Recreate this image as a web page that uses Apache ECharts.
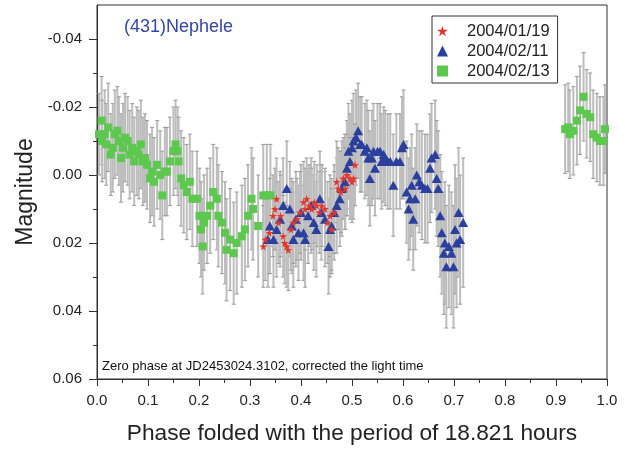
<!DOCTYPE html>
<html>
<head>
<meta charset="utf-8">
<script src="https://cdn.jsdelivr.net/npm/echarts@6/dist/echarts.min.js"></script>
<style>html,body{margin:0;padding:0;background:#fff}#c{width:625px;height:450px}</style>
</head>
<body>
<div id="c"></div>
<script>
// ---- Data (phase, magnitude, error) ----
const seriesNames = ['2004/01/19', '2004/02/11', '2004/02/13'];
const xTicks = [0, 0.1, 0.2, 0.3, 0.4, 0.5, 0.6, 0.7, 0.8, 0.9, 1.0];
const yTickLabels = [-0.04, -0.02, 0.00, 0.02, 0.04, 0.06];
const yMinorTicks = [-0.03, -0.01, 0.01, 0.03, 0.05];

const red0119 = [
  [0.326,0.021,0.012],[0.330,0.019,0.012],[0.338,0.017,0.012],[0.345,0.012,0.012],
  [0.349,0.010,0.012],[0.352,0.007,0.012],[0.356,0.014,0.012],[0.360,0.012,0.012],
  [0.365,0.018,0.012],[0.368,0.020,0.012],[0.372,0.021,0.012],[0.375,0.022,0.012],
  [0.380,0.016,0.012],[0.385,0.014,0.012],[0.392,0.013,0.012],[0.398,0.011,0.012],
  [0.405,0.008,0.012],[0.408,0.010,0.012],[0.411,0.007,0.012],[0.416,0.009,0.012],
  [0.421,0.010,0.012],[0.426,0.008,0.012],[0.431,0.009,0.012],[0.436,0.011,0.012],
  [0.441,0.009,0.012],[0.447,0.010,0.012],[0.452,0.014,0.012],[0.457,0.012,0.012],
  [0.460,0.016,0.012],[0.465,0.011,0.012],[0.470,0.002,0.012],[0.473,0.004,0.012],
  [0.478,0.005,0.012],[0.483,0.001,0.012],[0.487,0.004,0.012],[0.490,0.000,0.012],
  [0.496,0.001,0.012],[0.500,0.002,0.012],[0.503,0.001,0.012],[0.506,-0.003,0.012]
];

const blue0211 = [
  [0.335,0.019,0.014],[0.339,0.015,0.014],[0.346,0.019,0.014],[0.352,0.016,0.014],
  [0.359,0.013,0.014],[0.365,0.009,0.014],[0.372,0.004,0.014],[0.378,0.010,0.014],
  [0.382,0.015,0.014],[0.385,0.019,0.014],[0.390,0.013,0.014],[0.395,0.017,0.014],
  [0.400,0.011,0.014],[0.405,0.017,0.014],[0.408,0.019,0.014],[0.414,0.012,0.014],
  [0.420,0.009,0.014],[0.425,0.014,0.014],[0.430,0.016,0.014],[0.437,0.007,0.014],
  [0.440,0.011,0.014],[0.447,0.013,0.014],[0.454,0.021,0.014],[0.457,0.016,0.014],
  [0.460,0.015,0.014],[0.465,0.011,0.014],[0.470,0.009,0.014],[0.476,0.007,0.014],
  [0.480,0.004,0.014],[0.486,0.002,0.014],[0.490,-0.002,0.014],[0.493,-0.007,0.014],
  [0.496,-0.004,0.014],[0.500,-0.008,0.014],[0.503,-0.010,0.014],[0.508,-0.011,0.014],
  [0.512,-0.013,0.014],[0.516,-0.009,0.014],[0.519,-0.009,0.014],[0.525,-0.007,0.014],
  [0.529,-0.008,0.014],[0.532,-0.005,0.014],[0.535,0.001,0.014],[0.539,-0.005,0.014],
  [0.542,-0.007,0.014],[0.545,-0.002,0.014],[0.550,-0.007,0.014],[0.555,-0.007,0.014],
  [0.558,-0.004,0.014],[0.562,-0.006,0.014],[0.565,-0.005,0.014],[0.570,-0.004,0.014],
  [0.575,-0.004,0.014],[0.581,0.003,0.015],[0.587,-0.004,0.014],[0.594,-0.004,0.014],
  [0.598,-0.008,0.015],[0.601,-0.009,0.016],[0.607,0.005,0.015],[0.611,0.010,0.015],
  [0.614,0.007,0.015],[0.617,0.003,0.015],[0.620,0.013,0.015],[0.624,0.007,0.015],
  [0.627,0.000,0.015],[0.632,0.002,0.015],[0.637,0.003,0.016],[0.643,0.004,0.016],
  [0.648,0.004,0.016],[0.653,-0.002,0.016],[0.656,-0.005,0.016],[0.663,-0.006,0.016],
  [0.666,0.001,0.017],[0.669,0.004,0.017],[0.673,0.012,0.018],[0.676,0.017,0.018],
  [0.680,0.023,0.018],[0.682,0.020,0.018],[0.685,0.027,0.018],[0.690,0.021,0.018],
  [0.695,0.023,0.018],[0.699,0.027,0.018],[0.702,0.016,0.019],[0.705,0.020,0.019],
  [0.709,0.011,0.019],[0.712,0.019,0.019],[0.718,0.014,0.019]
];

const green0213 = [
  [0.004,-0.012,0.012],[0.009,-0.016,0.013],[0.010,-0.010,0.012],[0.015,-0.012,0.013],
  [0.018,-0.009,0.012],[0.022,-0.014,0.013],[0.027,-0.006,0.012],[0.031,-0.008,0.013],
  [0.035,-0.012,0.013],[0.040,-0.013,0.013],[0.043,-0.010,0.013],[0.047,-0.005,0.013],
  [0.051,-0.008,0.013],[0.055,-0.011,0.013],[0.060,-0.010,0.013],[0.064,-0.006,0.013],
  [0.069,-0.008,0.013],[0.073,-0.004,0.013],[0.078,-0.007,0.013],[0.082,-0.006,0.013],
  [0.086,-0.009,0.013],[0.090,-0.004,0.013],[0.094,-0.005,0.013],[0.098,-0.003,0.013],
  [0.104,0.001,0.013],[0.108,-0.001,0.013],[0.112,0.002,0.013],[0.118,-0.003,0.013],
  [0.124,0.000,0.013],[0.128,0.006,0.013],[0.133,-0.001,0.013],[0.137,-0.001,0.013],
  [0.143,-0.004,0.013],[0.150,-0.007,0.013],[0.154,-0.009,0.013],[0.158,-0.007,0.013],
  [0.160,-0.004,0.013],[0.165,0.001,0.014],[0.170,0.003,0.014],[0.176,0.005,0.014],
  [0.182,0.002,0.014],[0.187,0.007,0.014],[0.196,0.007,0.014],[0.201,0.012,0.014],
  [0.204,0.016,0.014],[0.207,0.021,0.014],[0.210,0.014,0.014],[0.216,0.012,0.014],
  [0.222,0.009,0.014],[0.228,0.005,0.014],[0.235,0.007,0.015],[0.238,0.012,0.015],
  [0.245,0.014,0.015],[0.251,0.017,0.015],[0.254,0.022,0.015],[0.261,0.019,0.015],
  [0.268,0.023,0.015],[0.274,0.020,0.015],[0.284,0.018,0.015],[0.290,0.016,0.015],
  [0.296,0.012,0.015],[0.303,0.007,0.015],[0.306,0.010,0.015],[0.316,0.015,0.015],
  [0.326,0.006,0.015],[0.333,0.006,0.015],[0.340,0.006,0.015],
  [0.918,-0.0135,0.013],[0.924,-0.014,0.013],[0.927,-0.012,0.013],[0.934,-0.013,0.013],
  [0.941,-0.016,0.013],[0.947,-0.019,0.013],[0.954,-0.023,0.013],[0.960,-0.018,0.013],
  [0.967,-0.017,0.013],[0.973,-0.012,0.013],[0.980,-0.011,0.013],[0.986,-0.010,0.013],
  [0.993,-0.010,0.013],[0.996,-0.0135,0.013]
];

const STAR = 'path://M50,0 L61,35 L98,35 L68,57 L79,91 L50,70 L21,91 L32,57 L2,35 L39,35 Z';
const FONT = 'Liberation Sans, Arial, Helvetica, sans-serif';

const allErr = green0213.concat(blue0211, red0119);

const chart = echarts.init(document.getElementById('c'), null, {renderer: 'canvas'});
chart.setOption({
  animation: false,
  backgroundColor: '#fff',
  title: {
    text: '(431)Nephele', left: 124, top: 18, padding: 0,
    textStyle: {fontFamily: FONT, fontSize: 18, fontWeight: 'normal', color: '#3447a6'}
  },
  legend: {
    data: seriesNames, orient: 'vertical', left: 432, top: 16,
    padding: [6, 8, 3, 5], itemGap: 2, itemWidth: 11, itemHeight: 11,
    borderColor: '#333', borderWidth: 1,
    textStyle: {fontFamily: FONT, fontSize: 16.5, color: '#222', padding: [0, 0, 0, 14], lineHeight: 18}
  },
  graphic: [{
    type: 'text', left: 102, top: 360,
    style: {text: 'Zero phase at JD2453024.3102, corrected the light time', font: '13px ' + FONT, fill: '#111'}
  }],
  grid: {left: 97, top: 5, width: 510, height: 376, show: true, borderColor: '#333', borderWidth: 1},
  xAxis: {
    type: 'value', min: 0, max: 1, interval: 0.1,
    name: 'Phase folded with the period of 18.821 hours', nameLocation: 'middle', nameGap: 43,
    nameTextStyle: {fontFamily: FONT, fontSize: 22.7, color: '#222'},
    axisLine: {show: true, onZero: false, lineStyle: {color: '#333', width: 1}},
    axisTick: {show: true, inside: false, length: 7, lineStyle: {color: '#333'}},
    minorTick: {show: true, splitNumber: 2, length: 4, lineStyle: {color: '#333'}},
    axisLabel: {fontFamily: FONT, fontSize: 15, color: '#222', margin: 14, formatter: v => v.toFixed(1)},
    splitLine: {show: false}
  },
  yAxis: [{
    type: 'value', min: -0.05, max: 0.06, interval: 0.01, inverse: true,
    name: 'Magnitude', nameLocation: 'middle', nameGap: 57,
    nameTextStyle: {fontFamily: FONT, fontSize: 23, color: '#222'},
    axisLine: {show: true, onZero: false, lineStyle: {color: '#333', width: 1}},
    axisTick: {show: true, length: 8, customValues: yTickLabels, lineStyle: {color: '#333'}},
    axisLabel: {fontFamily: FONT, fontSize: 15, color: '#222', margin: 15, customValues: yTickLabels,
      formatter: v => v.toFixed(2)},
    splitLine: {show: false}
  }, {
    type: 'value', min: -0.05, max: 0.06, interval: 0.01, inverse: true, position: 'left',
    axisLine: {show: false, onZero: false},
    axisTick: {show: true, length: 4, customValues: yMinorTicks, lineStyle: {color: '#333'}},
    axisLabel: {show: false},
    splitLine: {show: false}
  }],
  series: [{
    type: 'custom', name: 'err', xAxisIndex: 0, yAxisIndex: 0, z: 1,
    data: allErr,
    encode: {x: 0, y: 1},
    renderItem: function (params, api) {
      const x = api.value(0), y = api.value(1), e = api.value(2);
      const t = api.coord([x, y - e]);
      const b = api.coord([x, y + e]);
      const hw = 2;
      return {
        type: 'group',
        children: [
          {type: 'line', shape: {x1: t[0], y1: t[1], x2: b[0], y2: b[1]}, style: {stroke: '#bdbdbd', lineWidth: 2}},
          {type: 'line', shape: {x1: t[0] - hw, y1: t[1], x2: t[0] + hw, y2: t[1]}, style: {stroke: '#999', lineWidth: 1}},
          {type: 'line', shape: {x1: b[0] - hw, y1: b[1], x2: b[0] + hw, y2: b[1]}, style: {stroke: '#999', lineWidth: 1}}
        ]
      };
    }
  }, {
    type: 'scatter', name: '2004/02/13', data: green0213.map(d => [d[0], d[1]]),
    symbol: 'rect', symbolSize: 8, itemStyle: {color: '#5cc84e', opacity: 1}, z: 3
  }, {
    type: 'scatter', name: '2004/02/11', data: blue0211.map(d => [d[0], d[1]]),
    symbol: 'triangle', symbolSize: [10, 9], itemStyle: {color: '#2b3f9e', opacity: 1}, z: 4
  }, {
    type: 'scatter', name: '2004/01/19', data: red0119.map(d => [d[0], d[1]]),
    symbol: STAR, symbolSize: 8, itemStyle: {color: '#e5352b', opacity: 1}, z: 5
  }]
});
</script>
</body>
</html>
